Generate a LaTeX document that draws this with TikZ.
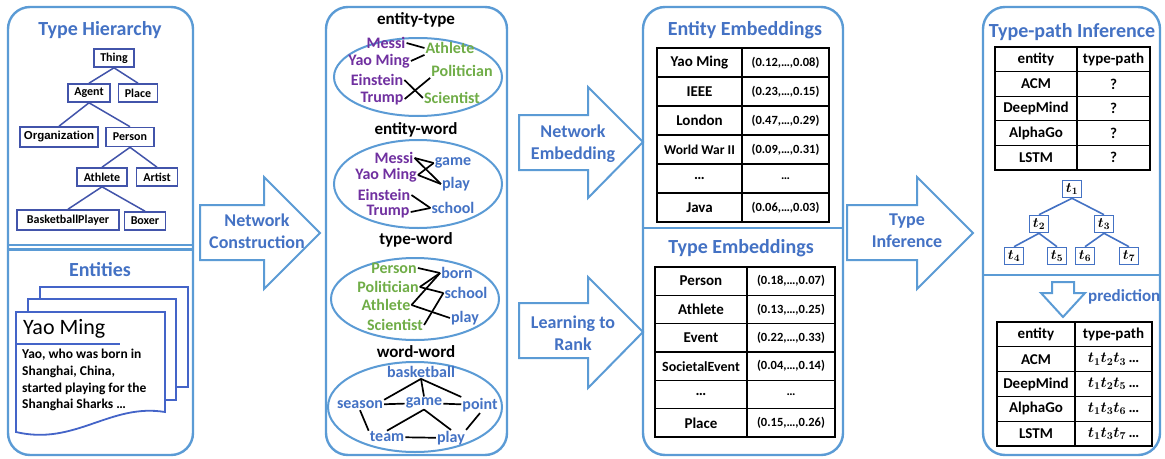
\documentclass[tikz,border=0pt]{standalone}
\usepackage{fix-cm}
\usepackage{fontspec}
\setmainfont{Carlito}
\newfontfamily\arialfont{Liberation Sans}
\usetikzlibrary{shapes.geometric}

\definecolor{panelblue}{RGB}{91,155,213}
\definecolor{titleblue}{RGB}{68,114,196}
\definecolor{boxblue}{RGB}{66,84,170}
\definecolor{docblue}{RGB}{68,100,200}
\definecolor{entpurple}{RGB}{112,48,160}
\definecolor{typegreen}{RGB}{112,173,71}
\definecolor{wordblue}{RGB}{68,114,196}

\tikzset{
  panel/.style={draw=panelblue, line width=2.4pt, rounded corners=22pt},
  divider/.style={draw=panelblue, line width=2.2pt},
  title/.style={font=\fontsize{20}{22}\selectfont\bfseries, text=titleblue, inner sep=0pt},
  flow/.style={draw=panelblue, line width=2pt, fill=white, line join=miter},
  flowtext/.style={font=\fontsize{18}{22}\selectfont\bfseries, text=titleblue, align=center, inner sep=0pt},
  htype/.style={draw=boxblue, line width=1.6pt, font=\fontsize{12}{12}\selectfont\bfseries, inner sep=0pt, minimum height=18pt},
  hedge/.style={draw=boxblue, line width=1.5pt},
  page/.style={draw=docblue, line width=1.8pt},
  graphbox/.style={draw=panelblue, line width=2pt},
  glabel/.style={font=\fontsize{17}{19}\selectfont\bfseries, inner sep=0pt},
  ent/.style={font=\fontsize{16}{18}\selectfont\bfseries, text=entpurple, inner sep=1pt},
  typ/.style={font=\fontsize{16}{18}\selectfont\bfseries, text=typegreen, inner sep=1pt},
  wrd/.style={font=\fontsize{16}{18}\selectfont\bfseries, text=wordblue, inner sep=1pt},
  link/.style={draw=black, line width=1.7pt},
  tabline/.style={draw=black, line width=1.2pt},
  tabframe/.style={draw=black, line width=2pt},
  cell/.style={inner sep=0pt},
  cellnum/.style={inner sep=0pt, font=\fontsize{12.5}{13}\selectfont\bfseries},
  tcell/.style={inner sep=0pt, font=\fontsize{15}{15}\selectfont\bfseries\boldmath},
  tbox/.style={draw=titleblue, line width=1.6pt, minimum width=19pt, minimum height=17pt, inner sep=0pt, font=\fontsize{14}{14}\selectfont\boldmath},
  tedge/.style={draw=titleblue, line width=1.6pt},
}

\begin{document}
\begin{tikzpicture}[x=1pt,y=-1pt]
\useasboundingbox (0,0) rectangle (1165,458);
\fill[white] (0,0) rectangle (1165,458);

% ---------- panels ----------
\draw[panel] (8,7) rectangle (193,455);
\draw[divider] (8,245) -- (193,245);
\draw[divider] (8,249.5) -- (193,249.5);
\draw[panel] (326,7) rectangle (507,455);
\draw[panel] (643,7) rectangle (843,455);
\draw[divider] (643,228) -- (843,228);
\draw[panel] (983,7) rectangle (1160,455);
\draw[divider] (983,275) -- (1160,275);

% ---------- titles ----------
\node[title] (th-title) at (100,30) {Type Hierarchy};
\node[title] (en-title) at (100,270) {Entities};
\node[title] (ee-title) at (745,30) {Entity Embeddings};
\node[title] (te-title) at (741,248) {Type Embeddings};
\node[title] (tp-title) at (1072,32) {Type-path Inference};

% ---------- type hierarchy ----------
\node[htype, minimum width=40pt] (thing) at (114,58) {Thing};
\node[htype, minimum width=42pt] (agent) at (89,93) {Agent};
\node[htype, minimum width=39pt] (place) at (138,93) {Place};
\node[htype, minimum width=78pt, minimum height=20pt, font={\arialfont\fontsize{11.5}{12}\selectfont\bfseries}] (organization) at (59,137) {Organization};
\node[htype, minimum width=48pt, minimum height=19pt] (person) at (130,137) {Person};
\node[htype, minimum width=50pt] (athlete) at (102,177) {Athlete};
\node[htype, minimum width=41pt] (artist) at (157,177) {Artist};
\node[htype, minimum width=102pt, minimum height=20pt] (basketballplayer) at (68,220) {BasketballPlayer};
\node[htype, minimum width=41pt] (boxer) at (145,221) {Boxer};
\draw[hedge] (thing.south) -- (agent.north);
\draw[hedge] (thing.south) -- (place.north);
\draw[hedge] (agent.south) -- (organization.north);
\draw[hedge] (agent.south) -- (person.north);
\draw[hedge] (person.south) -- (athlete.north);
\draw[hedge] (person.south) -- (artist.north);
\draw[hedge] (athlete.south) -- (basketballplayer.north);
\draw[hedge] (athlete.south) -- (boxer.north);

% ---------- entity documents ----------
\draw[page] (40,287) rectangle (188,387);
\filldraw[page, fill=white] (28,299) rectangle (176,400);
\filldraw[page, fill=white] (16,312) -- (165,312) -- (165,412)
  .. controls (110,403) and (75,446) .. (16,432) -- cycle;
\draw[page] (16,344) -- (120,344);
\node[anchor=west, inner sep=0pt, font=\fontsize{22}{24}\selectfont] (doc-name) at (23,329) {Yao Ming};
\node[anchor=north west, align=left, inner sep=0pt, font=\fontsize{13.5}{16.7}\selectfont\bfseries] (doc-text) at (22,349)
  {Yao, who was born in\\Shanghai, China,\\started playing for the\\Shanghai Sharks …};

% ---------- flow arrows ----------
\draw[flow] (200,205) -- (264,205) -- (264,177) -- (320,233) -- (264,289) -- (264,260) -- (200,260) -- cycle;
\node[flowtext] (nc-label) at (257,231) {Network\\Construction};
\draw[flow] (519,115) -- (588,115) -- (588,87) -- (643,142) -- (588,198) -- (588,170) -- (519,170) -- cycle;
\node[flowtext] (ne-label) at (573,144) {Network\\Embedding};
\draw[flow] (519,303) -- (588,303) -- (588,277) -- (643,332) -- (588,388) -- (588,358) -- (519,358) -- cycle;
\node[flowtext] (lr-label) at (573,333) {Learning to\\Rank};
\draw[flow] (847,205) -- (917,205) -- (917,177) -- (973,233) -- (917,289) -- (917,260) -- (847,260) -- cycle;
\node[flowtext] (ti-label) at (907,231) {Type\\Inference};

% ---------- heterogeneous networks ----------
\node[glabel] (lbl-et) at (416,20) {entity-type};
\node[glabel] (lbl-ew) at (416,130) {entity-word};
\node[glabel] (lbl-tw) at (416,240) {type-word};
\node[glabel] (lbl-ww) at (416,352) {word-word};
\draw[graphbox] (418,77) ellipse [x radius=84pt, y radius=39pt];
\draw[graphbox] (418,184) ellipse [x radius=84pt, y radius=44pt];
\draw[graphbox] (415,299) ellipse [x radius=84pt, y radius=41pt];
\draw[graphbox] (415,407) ellipse [x radius=87pt, y radius=45pt];

% entity-type
\node[ent] (et-messi) at (386,43) {Messi};
\node[typ] (et-athlete) at (450,48) {Athlete};
\node[ent] (et-yao) at (379,61) {Yao Ming};
\node[typ] (et-politician) at (462,71) {Politician};
\node[ent] (et-einstein) at (377,80) {Einstein};
\node[ent] (et-trump) at (382,99) {Trump};
\node[typ] (et-scientist) at (452,98) {Scientist};
\draw[link] (et-messi.east) -- (et-athlete.west);
\draw[link] (et-yao.east) -- (et-athlete.south west);
\draw[link] (et-einstein.east) -- (et-scientist.west);
\draw[link] (et-trump.east) -- (et-politician.south west);

% entity-word
\node[ent] (ew-messi) at (394,158) {Messi};
\node[wrd] (ew-game) at (453,163) {game};
\node[ent] (ew-yao) at (386,175) {Yao Ming};
\node[wrd] (ew-play) at (456,184) {play};
\node[ent] (ew-einstein) at (384,195) {Einstein};
\node[ent] (ew-trump) at (388,212) {Trump};
\node[wrd] (ew-school) at (453,208) {school};
\draw[link] (ew-messi.east) -- (ew-game.west);
\draw[link] (ew-messi.east) -- (ew-play.west);
\draw[link] (ew-yao.east) -- (ew-game.west);
\draw[link] (ew-yao.east) -- (ew-play.west);
\draw[link] (ew-einstein.east) -- (ew-school.west);
\draw[link] (ew-trump.east) -- (ew-school.west);

% type-word
\node[typ] (tw-person) at (394,268) {Person};
\node[wrd] (tw-born) at (457,273) {born};
\node[typ] (tw-politician) at (388,287) {Politician};
\node[wrd] (tw-school) at (466,293) {school};
\node[typ] (tw-athlete) at (386,305) {Athlete};
\node[wrd] (tw-play) at (465,318) {play};
\node[typ] (tw-scientist) at (395,325) {Scientist};
\draw[link] (tw-person.east) -- (tw-born.west);
\draw[link] (tw-politician.east) -- (tw-born.west);
\draw[link] (tw-athlete.east) -- (tw-born.west);
\draw[link] (tw-politician.east) -- (tw-school.west);
\draw[link] (tw-athlete.east) -- (tw-play.west);
\draw[link] (tw-scientist.east) -- (tw-school.west);

% word-word
\node[wrd] (ww-basketball) at (421,372) {basketball};
\node[wrd] (ww-season) at (360,405) {season};
\node[wrd] (ww-game) at (424,403) {game};
\node[wrd] (ww-point) at (480,405) {point};
\node[wrd] (ww-team) at (387,437) {team};
\node[wrd] (ww-play) at (451,438) {play};
\draw[link] (ww-basketball.south) -- (ww-season.north east);
\draw[link] (ww-basketball.south) -- (ww-game.north);
\draw[link] (ww-basketball.south) -- (ww-point.north west);
\draw[link] (ww-season) -- (ww-game);
\draw[link] (ww-game) -- (ww-point);
\draw[link] (ww-season.south) -- (ww-team.north west);
\draw[link] (ww-game.south) -- (ww-team.north);
\draw[link] (ww-game.south) -- (ww-play.north);
\draw[link] (ww-point.south) -- (ww-play.north east);
\draw[link] (ww-team) -- (ww-play);

% ---------- entity embeddings table ----------
\foreach \r in {1,...,5} \draw[tabline] (657,48+29*\r) -- (829,48+29*\r);
\draw[tabline] (742,48) -- (742,222);
\draw[tabframe] (657,48) rectangle (829,222);
\foreach \i/\va/\fs/\vb in {0/{Yao Ming}/15/{(0.12,…,0.08)}, 1/IEEE/15/{(0.23,…,0.15)},
    2/London/15/{(0.47,…,0.29)}, 3/{World War II}/13.5/{(0.09,…,0.31)},
    4/…/15/…, 5/Java/15/{(0.06,…,0.03)}} {
  \node[cell, font=\fontsize{\fs}{\fs}\selectfont\bfseries] (ee-name-\i) at (699.5,62.5+29*\i) {\va};
  \node[cellnum] (ee-vec-\i) at (785.5,62.5+29*\i) {\vb};
}

% ---------- type embeddings table ----------
\foreach \r in {1,...,5} \draw[tabline] (655,267+28.33*\r) -- (835,267+28.33*\r);
\draw[tabline] (747,267) -- (747,437);
\draw[tabframe] (655,267) rectangle (835,437);
\foreach \i/\va/\fs/\vb in {0/Person/15/{(0.18,…,0.07)}, 1/Athlete/15/{(0.13,…,0.25)},
    2/Event/15/{(0.22,…,0.33)}, 3/SocietalEvent/14/{(0.04,…,0.14)},
    4/…/15/…, 5/Place/15/{(0.15,…,0.26)}} {
  \node[cell, font=\fontsize{\fs}{\fs}\selectfont\bfseries] (te-name-\i) at (701,281.17+28.33*\i) {\va};
  \node[cellnum] (te-vec-\i) at (791,281.17+28.33*\i) {\vb};
}

% ---------- type-path query table ----------
\foreach \r in {1,...,4} \draw[tabline] (995,47+24.6*\r) -- (1150,47+24.6*\r);
\draw[tabline] (1077,47) -- (1077,170);
\draw[tabframe] (995,47) rectangle (1150,170);
\foreach \i/\va/\vb in {0/entity/type-path, 1/ACM/?, 2/DeepMind/?, 3/AlphaGo/?, 4/LSTM/?} {
  \node[tcell] (q-ent-\i) at (1036,59.3+24.6*\i) {\va};
  \node[tcell] (q-path-\i) at (1113.5,59.3+24.6*\i) {\vb};
}

% ---------- type tree ----------
\node[tbox] (t1) at (1072,189) {$t_1$};
\node[tbox] (t2) at (1039,224) {$t_2$};
\node[tbox] (t3) at (1104,224) {$t_3$};
\node[tbox] (t4) at (1014,256) {$t_4$};
\node[tbox] (t5) at (1057,256) {$t_5$};
\node[tbox] (t6) at (1085,256) {$t_6$};
\node[tbox] (t7) at (1129,256) {$t_7$};
\draw[tedge] (t1.south) -- (t2.north);
\draw[tedge] (t1.south) -- (t3.north);
\draw[tedge] (t2.south) -- (t4.north);
\draw[tedge] (t2.south) -- (t5.north);
\draw[tedge] (t3.south) -- (t6.north);
\draw[tedge] (t3.south) -- (t7.north);

% ---------- prediction ----------
\draw[flow] (1052,282) -- (1074,282) -- (1074,293) -- (1085,293) -- (1063,317) -- (1041,293) -- (1052,293) -- cycle;
\node[font=\fontsize{17}{19}\selectfont\bfseries, text=titleblue, anchor=west, inner sep=0pt] (pred-label) at (1088,297) {prediction};

% ---------- predicted type-path table ----------
\foreach \r in {1,...,4} \draw[tabline] (997,322+24.8*\r) -- (1152,322+24.8*\r);
\draw[tabline] (1075,322) -- (1075,446);
\draw[tabframe] (997,322) rectangle (1152,446);
\foreach \i/\va/\vb in {0/entity/type-path, 1/ACM/{$t_1t_2t_3$\,…}, 2/DeepMind/{$t_1t_2t_5$\,…},
    3/AlphaGo/{$t_1t_3t_6$\,…}, 4/LSTM/{$t_1t_3t_7$\,…}} {
  \node[tcell] (p-ent-\i) at (1036,334.4+24.8*\i) {\va};
  \node[tcell] (p-path-\i) at (1113.5,334.4+24.8*\i) {\vb};
}
\end{tikzpicture}
\end{document}
